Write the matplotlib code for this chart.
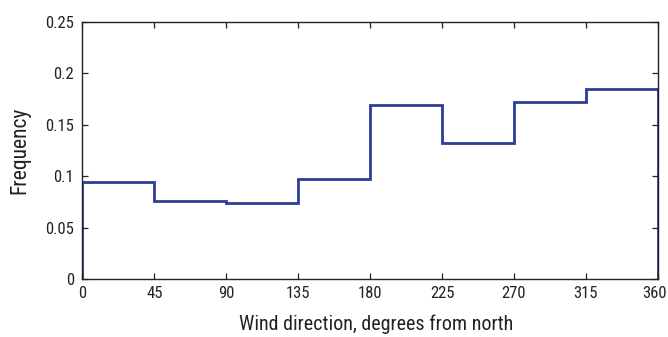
import matplotlib
matplotlib.use("Agg")
import matplotlib.pyplot as plt
import matplotlib.transforms as mtransforms
import numpy as np

# Wind direction histogram: 45-degree bins, relative frequency
bin_edges = [0, 45, 90, 135, 180, 225, 270, 315, 360]
frequency = [0.0949, 0.0758, 0.0739, 0.0975, 0.1694, 0.1325, 0.1723, 0.1852]
xticks = [0, 45, 90, 135, 180, 225, 270, 315, 360]
yticks = [0, 0.05, 0.1, 0.15, 0.2, 0.25]
ytick_labels = ["0", "0.05", "0.1", "0.15", "0.2", "0.25"]

plt.rcParams['font.family'] = ['Roboto Condensed', 'Liberation Sans Narrow',
                               'Liberation Sans', 'DejaVu Sans']

fig = plt.figure(figsize=(6.68, 3.37), dpi=100)
ax = fig.add_axes([0.1235, 0.1712, 0.8611, 0.7635])

ax.stairs(frequency, bin_edges, color="#2b3d98", linewidth=2.0)

ax.set_xlim(0, 360)
ax.set_ylim(0, 0.25)
ax.set_xticks(xticks)
ax.set_xticklabels([str(v) for v in xticks])
ax.set_yticks(yticks)
ax.set_yticklabels(ytick_labels)

ax.tick_params(direction="in", length=4, width=0.9, top=True, right=True,
               labelsize=12, colors="#222222")
ax.tick_params(axis="x", pad=5)
ax.tick_params(axis="y", pad=6)
for s in ax.spines.values():
    s.set_linewidth(1.0)
    s.set_color("#222222")

# nudge the last x tick label left so it stays inside the figure edge
last = ax.get_xticklabels()[-1]
last.set_transform(last.get_transform() +
                   mtransforms.ScaledTranslation(-3.5 / 100, 0, fig.dpi_scale_trans))

ax.set_xlabel("Wind direction, degrees from north", fontsize=14.5,
              color="#222222")
ax.set_ylabel("Frequency", fontsize=15.5, color="#222222")
ax.xaxis.set_label_coords(0.51, -0.135)
ax.yaxis.set_label_coords(-0.09, 0.5)

fig.savefig("out.png", dpi=100)
